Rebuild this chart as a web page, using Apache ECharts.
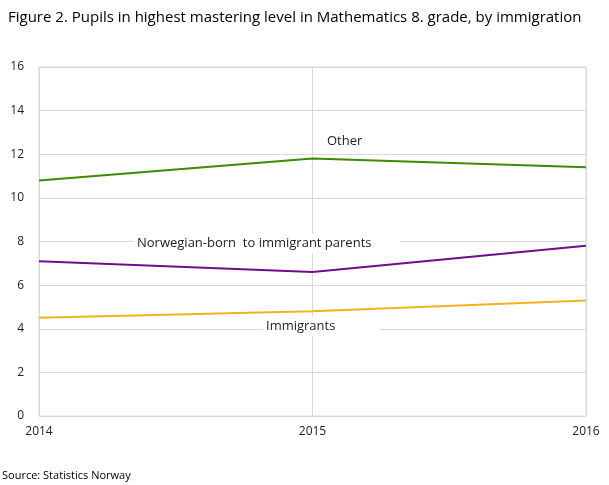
<!DOCTYPE html>
<html>
<head>
<meta charset="utf-8">
<script src="https://cdn.jsdelivr.net/npm/echarts@6/dist/echarts.min.js"></script>
<style>
  html, body { margin: 0; padding: 0; background: #fff; }
  #main { width: 609px; height: 485px; }
</style>
</head>
<body>
<div id="main"></div>
<script>
  // data
  var years = ['2014', '2015', '2016'];
  var other = [10.8, 11.8, 11.4];
  var norwegianBorn = [7.1, 6.6, 7.8];
  var immigrants = [4.5, 4.8, 5.3];

  var myChart = echarts.init(document.getElementById('main'));

  // series labels sit on white boxes that hide the grid lines behind them
  function seriesLabel(text, left, top, padding) {
    return {
      type: 'text', left: left, top: top, z: 10,
      style: {
        text: text,
        fontFamily: 'Open Sans',
        fontSize: 13,
        fill: '#222',
        backgroundColor: '#fff',
        padding: padding
      }
    };
  }

  var option = {
    animation: false,
    title: {
      text: 'Figure 2. Pupils in highest mastering level in Mathematics 8. grade, by immigration',
      left: 3,
      top: 5,
      textStyle: { fontFamily: 'Open Sans', fontSize: 15, fontWeight: 'normal', color: '#000' }
    },
    grid: { left: 39, right: 23, top: 67, bottom: 69, show: true, borderColor: '#d9d9d9', borderWidth: 1 },
    xAxis: {
      type: 'category',
      data: years,
      boundaryGap: false,
      axisLine: { show: false },
      axisTick: { show: false },
      splitLine: { show: true, lineStyle: { color: '#d9d9d9' } },
      axisLabel: { fontFamily: 'Open Sans', fontSize: 12, color: '#222', margin: 10 }
    },
    yAxis: {
      type: 'value',
      min: 0,
      max: 16,
      interval: 2,
      axisLine: { show: false },
      axisTick: { show: false },
      splitLine: { lineStyle: { color: '#d9d9d9' } },
      axisLabel: { fontFamily: 'Open Sans', fontSize: 12, color: '#222', margin: 15 }
    },
    series: [
      { name: 'Other', type: 'line', data: other, symbol: 'none', lineStyle: { color: '#3d8b00', width: 2 }, z: 3 },
      { name: 'Norwegian-born  to immigrant parents', type: 'line', data: norwegianBorn, symbol: 'none', lineStyle: { color: '#6e0e8c', width: 2 }, z: 3 },
      { name: 'Immigrants', type: 'line', data: immigrants, symbol: 'none', lineStyle: { color: '#f0b31c', width: 2 }, z: 3 }
    ],
    graphic: [
      seriesLabel('Other', 324, 132, [3, 3, 3, 3]),
      seriesLabel('Norwegian-born  to immigrant parents', 134, 234, [3, 29, 3, 3]),
      seriesLabel('Immigrants', 263, 317, [3, 44, 3, 3]),
      { type: 'text', left: 2, top: 470, style: { text: 'Source: Statistics Norway', fontFamily: 'Open Sans', fontSize: 11, fill: '#000' } }
    ]
  };

  myChart.setOption(option);
</script>
</body>
</html>
